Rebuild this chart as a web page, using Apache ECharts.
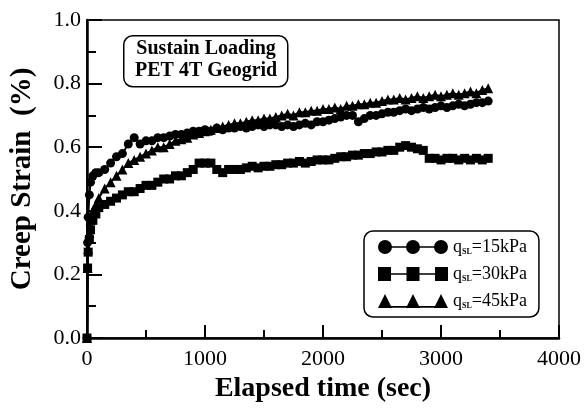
<!DOCTYPE html>
<html>
<head>
<meta charset="utf-8">
<script src="https://cdn.jsdelivr.net/npm/echarts@6/dist/echarts.min.js"></script>
<style>
html,body{margin:0;padding:0;background:#fff;}
#chart{width:584px;height:408px;}
</style>
</head>
<body>
<div id="chart"></div>
<script>
// Elapsed time (sec)
var times = [0,5,10,20,30,50,75,100,150,200,250,300,350,400,450,500,550,600,650,700,750,800,850,900,950,1000,1050,1100,1150,1200,1250,1300,1350,1400,1450,1500,1550,1600,1650,1700,1750,1800,1850,1900,1950,2000,2050,2100,2150,2200,2250,2300,2350,2400,2450,2500,2550,2600,2650,2700,2750,2800,2850,2900,2950,3000,3050,3100,3150,3200,3250,3300,3350,3400];
// q_SL = 15 kPa (circles)
var strain15 = [0,0.30,0.38,0.45,0.49,0.51,0.52,0.52,0.53,0.55,0.57,0.58,0.61,0.63,0.61,0.62,0.62,0.63,0.63,0.635,0.64,0.64,0.645,0.65,0.65,0.655,0.65,0.66,0.655,0.66,0.66,0.665,0.66,0.665,0.67,0.665,0.67,0.67,0.665,0.67,0.665,0.67,0.675,0.67,0.68,0.68,0.685,0.69,0.695,0.70,0.70,0.68,0.69,0.70,0.70,0.705,0.71,0.71,0.715,0.72,0.715,0.72,0.725,0.72,0.725,0.73,0.725,0.73,0.735,0.73,0.735,0.74,0.74,0.745];
// q_SL = 30 kPa (squares)
var strain30 = [0,0.22,0.27,0.31,0.34,0.37,0.39,0.41,0.42,0.43,0.44,0.45,0.46,0.46,0.47,0.48,0.48,0.49,0.50,0.50,0.51,0.51,0.52,0.53,0.55,0.55,0.55,0.53,0.52,0.53,0.53,0.53,0.535,0.54,0.535,0.54,0.54,0.545,0.545,0.55,0.55,0.555,0.55,0.555,0.56,0.56,0.56,0.565,0.57,0.57,0.575,0.575,0.58,0.58,0.585,0.585,0.59,0.59,0.60,0.605,0.60,0.595,0.59,0.565,0.565,0.56,0.565,0.565,0.56,0.565,0.56,0.565,0.56,0.565];
// q_SL = 45 kPa (triangles)
var strain45 = [0,0.22,0.28,0.33,0.37,0.40,0.42,0.44,0.47,0.49,0.51,0.53,0.55,0.56,0.57,0.58,0.59,0.60,0.60,0.61,0.62,0.625,0.63,0.64,0.645,0.65,0.655,0.66,0.665,0.67,0.675,0.675,0.68,0.685,0.685,0.69,0.69,0.695,0.70,0.705,0.70,0.71,0.71,0.715,0.715,0.72,0.72,0.725,0.72,0.73,0.73,0.735,0.735,0.74,0.74,0.745,0.75,0.75,0.755,0.75,0.755,0.76,0.755,0.76,0.765,0.76,0.765,0.77,0.765,0.77,0.775,0.77,0.78,0.785];

var seriesNames = ['15kPa','30kPa','45kPa'];
var xTicks = {min:0, max:4000, step:1000};
var yTicks = {min:0, max:1.0, step:0.2};

function pairs(ys){ return times.map(function(t,i){ return [t, ys[i]]; }); }

var serifR = 'Liberation Serif';
var iconCircle = 'path://M0 7A7 7 0 1 1 14 7A7 7 0 1 1 0 7ZM7 6.2H63V7.8H7ZM28 7A7 7 0 1 1 42 7A7 7 0 1 1 28 7ZM56 7A7 7 0 1 1 70 7A7 7 0 1 1 56 7Z';
var iconSquare = 'path://M0 0.5H13V13.5H0ZM6 6.2H64V7.8H6ZM28.5 0.5H41.5V13.5H28.5ZM57 0.5H70V13.5H57Z';
var iconTri = 'path://M0 13L7 1L14 13ZM7 11.2H63V12.8H7ZM28 13L35 1L42 13ZM56 13L63 1L70 13Z';

var chart = echarts.init(document.getElementById('chart'), null, {renderer:'canvas'});
var lineStyle = {color:'#000', width:2};
var option = {
  animation:false,
  backgroundColor:'#fff',
  grid:{left:84, right:24, top:20, bottom:70, show:true, borderColor:'#000', borderWidth:1.5, backgroundColor:'transparent'},
  xAxis:{
    type:'value', min:xTicks.min, max:xTicks.max, interval:xTicks.step,
    name:'Elapsed time (sec)', nameLocation:'middle', nameGap:32,
    nameTextStyle:{fontFamily:serifR, fontWeight:'bold', fontSize:28, color:'#000'},
    axisLine:{show:true, onZero:false, lineStyle:{color:'#000', width:2.5}},
    axisTick:{show:true, inside:true, length:13, lineStyle:{color:'#000', width:2}},
    minorTick:{show:true, splitNumber:2, length:8, lineStyle:{color:'#000', width:2}},
    axisLabel:{fontFamily:serifR, fontSize:22, color:'#000', margin:10, formatter:function(v){return String(v);}},
    splitLine:{show:false}
  },
  yAxis:{
    type:'value', min:yTicks.min, max:yTicks.max, interval:yTicks.step,
    name:'Creep Strain  (%)', nameLocation:'middle', nameGap:50, nameRotate:90,
    nameTextStyle:{fontFamily:serifR, fontWeight:'bold', fontSize:29, color:'#000'},
    axisLine:{show:true, onZero:false, lineStyle:{color:'#000', width:2.5}},
    axisTick:{show:true, inside:true, length:15, lineStyle:{color:'#000', width:2}},
    minorTick:{show:true, splitNumber:2, length:9, lineStyle:{color:'#000', width:2}},
    axisLabel:{fontFamily:serifR, fontSize:22, color:'#000', margin:6, formatter:function(v){return v.toFixed(1);}},
    splitLine:{show:false}
  },
  legend:{
    orient:'vertical', left:364, top:231, itemWidth:70, itemHeight:14, itemGap:9,
    padding:[7,12,7,14], borderColor:'#000', borderWidth:1.5, borderRadius:9,
    symbolKeepAspect:false,
    data:[
      {name:seriesNames[0], icon:iconCircle},
      {name:seriesNames[1], icon:iconSquare},
      {name:seriesNames[2], icon:iconTri}
    ],
    formatter:function(n){ return '{a|q}{b|SL}{a|=' + n + '}'; },
    textStyle:{
      color:'#000',
      rich:{
        a:{fontFamily:serifR, fontSize:18, color:'#000'},
        b:{fontFamily:serifR, fontSize:8, color:'#000', fontWeight:'bold', verticalAlign:'bottom', padding:[6,0,0,0]}
      }
    }
  },
  graphic:[
    {type:'rect', left:123, top:35, shape:{width:164, height:51, r:9}, style:{fill:'#fff', stroke:'#000', lineWidth:1.5}, z:10},
    {type:'text', left:135, top:38, style:{text:'Sustain Loading\nPET 4T Geogrid', font:'bold 20px "Liberation Serif"', fill:'#000', textAlign:'center', lineHeight:22}, z:11}
  ],
  series:[
    {name:seriesNames[0], type:'line', data:pairs(strain15), symbol:'circle', symbolSize:9, showSymbol:true, showAllSymbol:true, clip:false, itemStyle:{color:'#000'}, lineStyle:lineStyle, z:3},
    {name:seriesNames[2], type:'line', data:pairs(strain45), symbol:'triangle', symbolSize:10, showSymbol:true, showAllSymbol:true, clip:false, itemStyle:{color:'#000'}, lineStyle:lineStyle, z:3},
    {name:seriesNames[1], type:'line', data:pairs(strain30), symbol:'rect', symbolSize:9, showSymbol:true, showAllSymbol:true, clip:false, itemStyle:{color:'#000'}, lineStyle:lineStyle, z:4}
  ]
};
chart.setOption(option);
</script>
</body>
</html>
